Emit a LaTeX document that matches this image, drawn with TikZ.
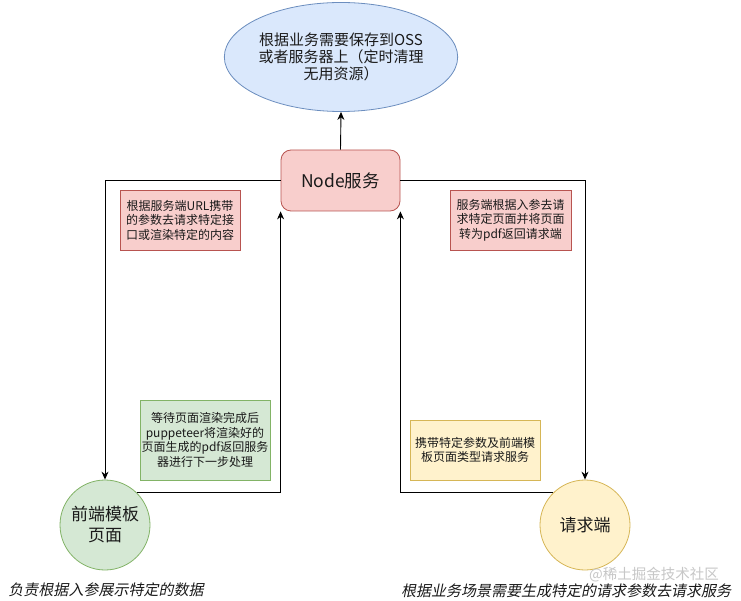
\documentclass[tikz,border=0pt]{standalone}
\usepackage{fontspec}
\setmainfont{Noto Sans CJK SC}
\newfontfamily\itcjk[FakeSlant=0.2]{Noto Sans CJK SC}
\usetikzlibrary{shapes.geometric,arrows.meta}
\definecolor{bluefill}{HTML}{DAE8FC}\definecolor{bluestroke}{HTML}{6C8EBF}
\definecolor{redfill}{HTML}{F8CECC}\definecolor{redstroke}{HTML}{B85450}
\definecolor{greenfill}{HTML}{D5E8D4}\definecolor{greenstroke}{HTML}{82B366}
\definecolor{yellowfill}{HTML}{FFF2CC}\definecolor{yellowstroke}{HTML}{D6B656}
\definecolor{txt}{HTML}{1A1A1A}
\tikzset{
  arr/.style={draw=black, line width=0.9pt, -{Stealth[length=8pt,width=7pt]}},
  notebox/.style={rectangle, draw, line width=0.8pt, inner sep=0pt, align=center, text=txt, font=\fontsize{12}{14.5}\selectfont},
  circ/.style={circle, draw, line width=0.8pt, minimum size=90pt, inner sep=0pt, align=center, text=txt, font=\fontsize{17}{21}\selectfont},
  caption/.style={text=txt, font=\itcjk\fontsize{15}{18}\selectfont, inner sep=0pt}
}
\begin{document}
\begin{tikzpicture}[x=1pt,y=-1pt]
\useasboundingbox (0,0) rectangle (741,601);
\fill[white] (0,0) rectangle (741,601);

\node[ellipse, draw=bluestroke, fill=bluefill, line width=0.8pt, minimum width=184pt, minimum height=109pt, inner sep=0pt, align=center, text=txt, font=\fontsize{15}{17}\selectfont] (oss) at (341,57) {根据业务需要保存到OSS\\或者服务器上（定时清理\\无用资源）};

\node[rectangle, rounded corners=10pt, draw=redstroke, fill=redfill, line width=0.8pt, minimum width=119pt, minimum height=61pt, inner sep=0pt, text=txt, font=\fontsize{17.5}{20}\selectfont] (svc) at (340.5,180.5) {Node服务};

\node[circ, draw=greenstroke, fill=greenfill] (fe) at (105,525) {前端模板\\页面};
\node[circ, draw=yellowstroke, fill=yellowfill] (req) at (585,525) {请求端};

\node[notebox, draw=redstroke, fill=redfill, minimum width=120pt, minimum height=60pt] (n1) at (180,220) {根据服务端URL携带\\的参数去请求特定接\\口或渲染特定的内容};
\node[notebox, draw=redstroke, fill=redfill, minimum width=121pt, minimum height=60pt] (n2) at (510.5,220) {服务端根据入参去请\\求特定页面并将页面\\转为pdf返回请求端};
\node[notebox, draw=greenstroke, fill=greenfill, minimum width=130pt, minimum height=80pt] (n3) at (205,440) {等待页面渲染完成后\\puppeteer将渲染好的\\页面生成的pdf返回服务\\器进行下一步处理};
\node[notebox, draw=yellowstroke, fill=yellowfill, minimum width=130pt, minimum height=60pt] (n4) at (475,450) {携带特定参数及前端模\\板页面类型请求服务};

\draw[arr] (svc.north) -- (oss.south);
\draw[arr] (svc.west) -| (fe.north);
\draw[arr] (svc.east) -| (req.north);
\draw[arr] (fe.45) -| (svc.south west);
\draw[arr] (req.135) -| (svc.south east);

\node[caption] (c1) at (106,590) {负责根据入参展示特定的数据};
\node[text=black!22, font=\fontsize{14.5}{17}\selectfont, inner sep=0pt] (wm) at (654,575) {@稀土掘金技术社区};
\node[caption] (c2) at (566,591) {根据业务场景需要生成特定的请求参数去请求服务};
\end{tikzpicture}
\end{document}
